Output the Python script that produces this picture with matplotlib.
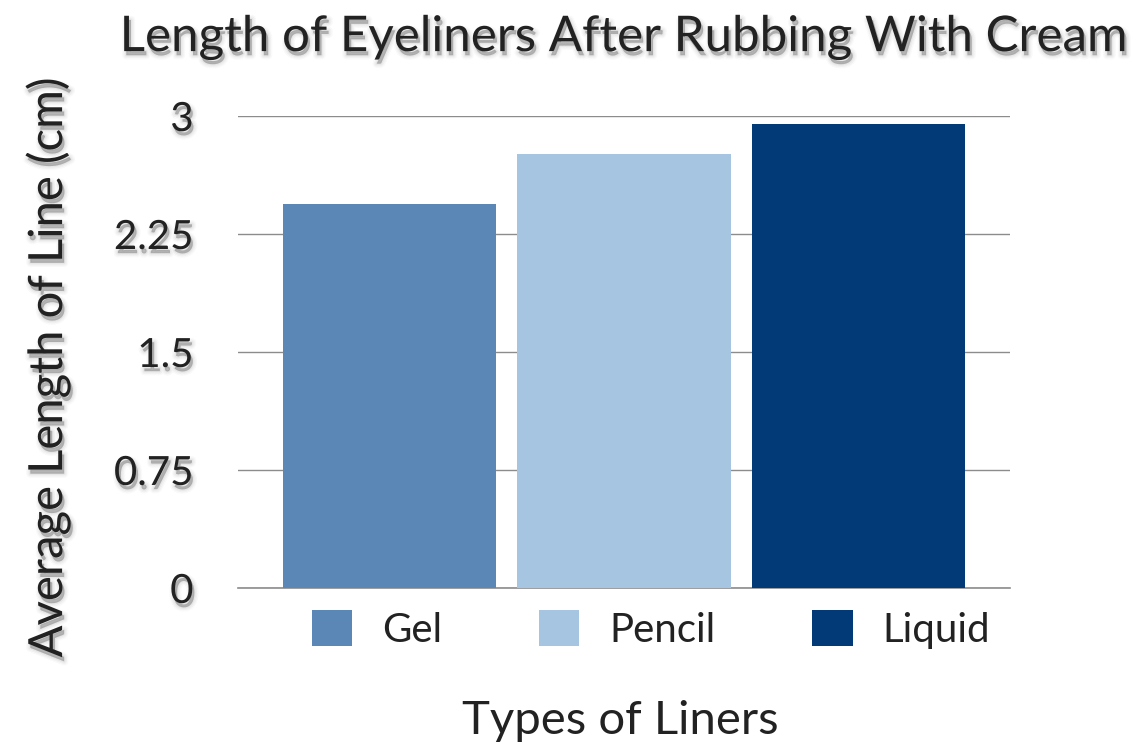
import matplotlib
matplotlib.use('Agg')
import matplotlib.pyplot as plt
import matplotlib.patheffects as pe
from matplotlib.patches import Patch

liners = ['Gel', 'Pencil', 'Liquid']
avg_length = [2.44, 2.76, 2.95]
bar_colors = ['#5b87b7', '#a6c5e0', '#023a78']
y_ticks = [0, 0.75, 1.5, 2.25, 3]
y_tick_labels = ['0', '0.75', '1.5', '2.25', '3']

plt.rcParams['font.family'] = ['Lato', 'DejaVu Sans']
text_color = '#222222'

# soft drop shadow for the text
shadow = [pe.Stroke(offset=(1.5, -3), linewidth=w, foreground='black', alpha=a)
          for w, a in [(6, 0.025), (4, 0.03), (2, 0.04)]]
shadow += [pe.SimplePatchShadow(offset=(1.5, -3), shadow_rgbFace='black', alpha=0.18), pe.Normal()]

fig = plt.figure(figsize=(11.43, 7.47), dpi=100)
ax = fig.add_axes([0.2082, 0.2129, 0.6754, 0.6318])

x = range(len(liners))
ax.bar(x, avg_length, width=0.91, color=bar_colors, zorder=3)

ax.set_xlim(-0.645, 2.645)
ax.set_ylim(0, 3)
ax.set_yticks(y_ticks)
ax.set_yticklabels(y_tick_labels)
ax.set_xticks([])
ax.tick_params(axis='y', length=0, pad=32, labelsize=29, labelcolor=text_color)
for lbl in ax.get_yticklabels():
    lbl.set_path_effects(shadow)

ax.grid(axis='y', color='#8c8c8c', linewidth=1, zorder=0)
for s in ['top', 'right', 'left']:
    ax.spines[s].set_visible(False)
ax.spines['bottom'].set_color('#8c8c8c')
ax.spines['bottom'].set_linewidth(1.2)

fig.text(0.545, 0.95, 'Length of Eyeliners After Rubbing With Cream', ha='center', va='center',
         fontsize=35.5, color=text_color, path_effects=shadow)
fig.text(0.042, 0.509, 'Average Length of Line (cm)', ha='center', va='center', rotation=90,
         fontsize=34, color=text_color, path_effects=shadow)
fig.text(0.543, 0.035, 'Types of Liners', ha='center', va='center',
         fontsize=34, color=text_color)

handles = [Patch(facecolor=c, edgecolor='none') for c in bar_colors]
leg = ax.legend(handles, liners, loc='upper center', bbox_to_anchor=(0.535, -0.012), ncol=3,
                frameon=False, fontsize=29, handlelength=1.0, handleheight=1.0,
                handletextpad=0.75, columnspacing=2.4, borderaxespad=0)
for t in leg.get_texts():
    t.set_color(text_color)

fig.savefig('out.png', dpi=100)
